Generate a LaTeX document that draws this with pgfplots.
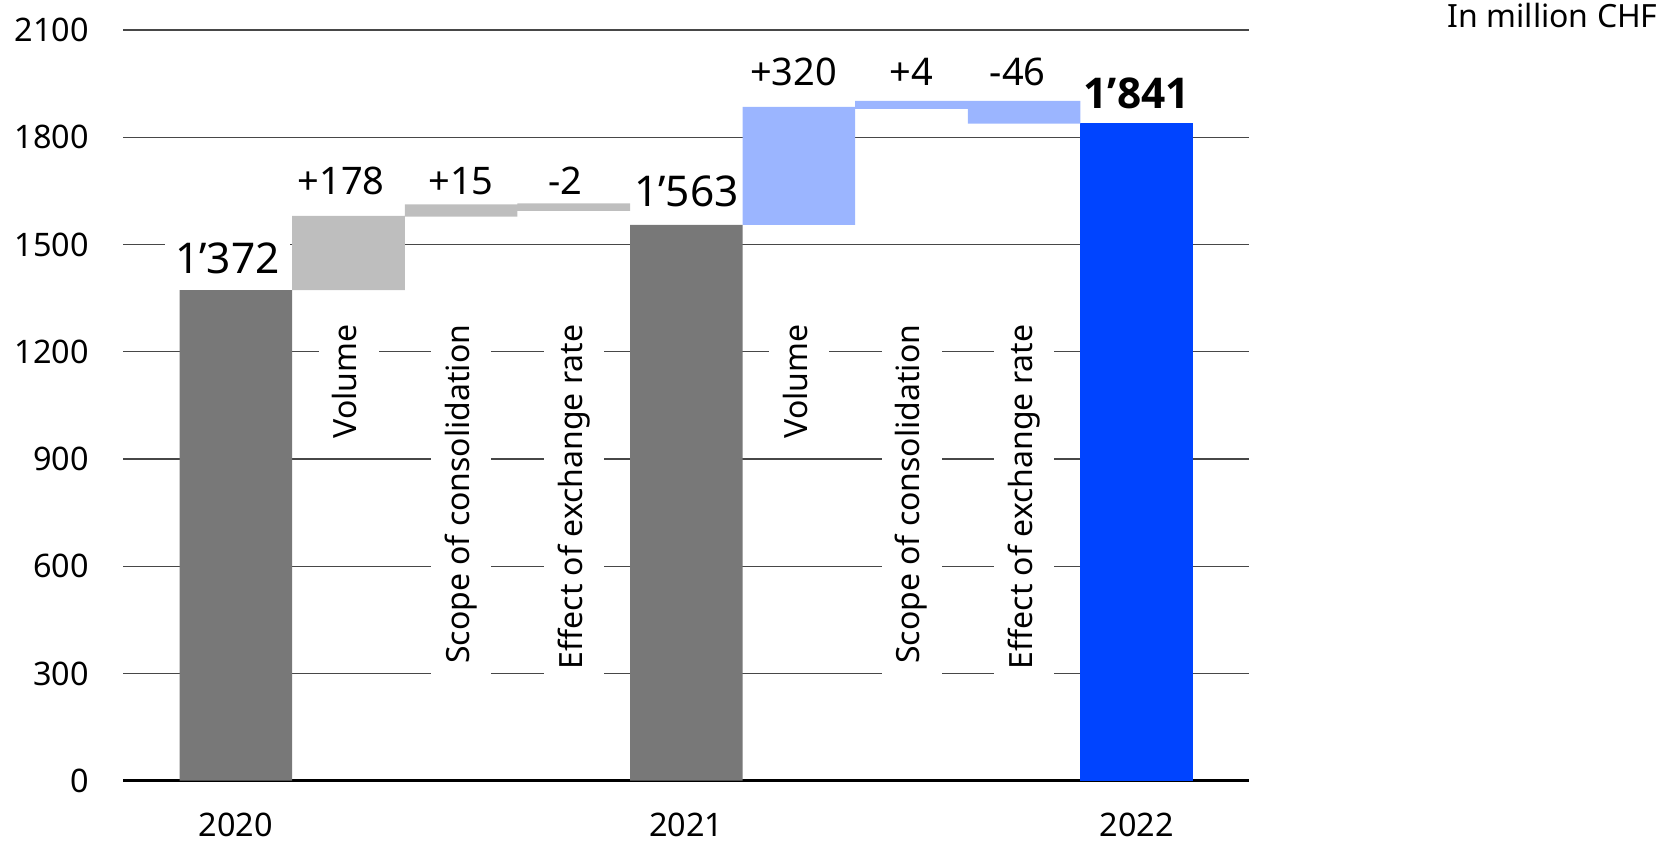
\documentclass[border=0pt]{standalone}
\usepackage{pgfplots}
\pgfplotsset{compat=1.18}
\usepackage{fontspec}
\setmainfont{Noto Sans}
\newfontfamily\opensans{Open Sans}
\definecolor{dgray}{HTML}{787878}
\definecolor{lgray}{HTML}{BEBEBE}
\definecolor{lblue}{HTML}{9BB5FF}
\definecolor{mblue}{HTML}{0044FF}
\begin{document}
\begin{tikzpicture}
\begin{axis}[
  at={(0,0)}, anchor=south west,
  scale only axis, width=563pt, height=375.35pt,
  xmin=-1, xmax=9, ymin=0, ymax=2100,
  ybar stacked, bar width=1,
  ytick={0,300,...,2100},
  xtick={0,4,8}, xticklabels={2020,2021,2022},
  ymajorgrids, grid style={black!72, line width=0.6pt},
  axis line style={draw=none},
  major tick length=0pt,
  tick label style={font=\fontsize{16.2}{19}\selectfont},
  /pgf/number format/assume math mode=true,
  /pgf/number format/1000 sep={},
  yticklabel style={anchor=east, inner sep=0pt, xshift=-17pt},
  xticklabel style={anchor=north, inner sep=0pt, yshift=-16pt},
  clip=false,
]
% invisible bases
\addplot[draw=none, fill=none] coordinates {(0,0)(1,1372)(2,1578)(3,1594)(4,0)(5,1555)(6,1879)(7,1838)(8,0)};
% totals 2020, 2021
\addplot[draw=none, fill=dgray] coordinates {(0,1372)(1,0)(2,0)(3,0)(4,1555)(5,0)(6,0)(7,0)(8,0)};
% changes 2020->2021
\addplot[draw=none, fill=lgray] coordinates {(0,0)(1,208)(2,34)(3,21)(4,0)(5,0)(6,0)(7,0)(8,0)};
% changes 2021->2022
\addplot[draw=none, fill=lblue] coordinates {(0,0)(1,0)(2,0)(3,0)(4,0)(5,330)(6,23)(7,64)(8,0)};
% total 2022
\addplot[draw=none, fill=mblue] coordinates {(0,0)(1,0)(2,0)(3,0)(4,0)(5,0)(6,0)(7,0)(8,1841)};

\draw[black, line width=1.2pt] (axis cs:-1,0) -- (axis cs:9,0);

% value labels
\node[font=\fontsize{21.2}{25}\selectfont, anchor=base, fill=white, inner sep=5pt, xshift=-4.2pt] at (axis cs:0,1420) {1’372};
\node[font=\fontsize{21.2}{25}\selectfont, anchor=base, inner sep=0pt] at (axis cs:4,1606) {1’563};
\node[font=\opensans\fontsize{21.2}{25}\selectfont\bfseries, anchor=base, inner sep=0pt] at (axis cs:8,1881) {1’841};
\node[font=\fontsize{19}{23}\selectfont, anchor=base, inner sep=0pt, xshift=-3.7pt] at (axis cs:1,1640) {+178};
\node[font=\fontsize{19}{23}\selectfont, anchor=base, inner sep=0pt] at (axis cs:2,1640) {+15};
\node[font=\fontsize{19}{23}\selectfont, anchor=base, inner sep=0pt, xshift=-4.2pt] at (axis cs:3,1640) {-2};
\node[font=\fontsize{19}{23}\selectfont, anchor=base, inner sep=0pt, xshift=-2.7pt] at (axis cs:5,1946) {+320};
\node[font=\fontsize{19}{23}\selectfont, anchor=base, inner sep=0pt] at (axis cs:6,1946) {+4};
\node[font=\fontsize{19}{23}\selectfont, anchor=base, inner sep=0pt, xshift=-3.2pt] at (axis cs:7,1946) {-46};

% category labels
\tikzset{catlab/.style={rotate=90, anchor=east, fill=white, inner xsep=5pt, inner ysep=7pt, text height=12.2pt, text depth=3.8pt, font=\fontsize{16}{19}\selectfont}}
\node[catlab] at (axis cs:1,1305) {Volume};
\node[catlab] at (axis cs:2,1305) {Scope of consolidation};
\node[catlab] at (axis cs:3,1305) {Effect of exchange rate};
\node[catlab] at (axis cs:5,1305) {Volume};
\node[catlab] at (axis cs:6,1305) {Scope of consolidation};
\node[catlab] at (axis cs:7,1305) {Effect of exchange rate};

\node[anchor=base east, font=\fontsize{16}{19}\selectfont, inner sep=0pt] at ([xshift=204.35pt, yshift=1pt]rel axis cs:1,1) {In million CHF};
\end{axis}
\pgfresetboundingbox
\path[use as bounding box] (-61.65pt,-31.65pt) rectangle (770.85pt,390.35pt);
\end{tikzpicture}
\end{document}
